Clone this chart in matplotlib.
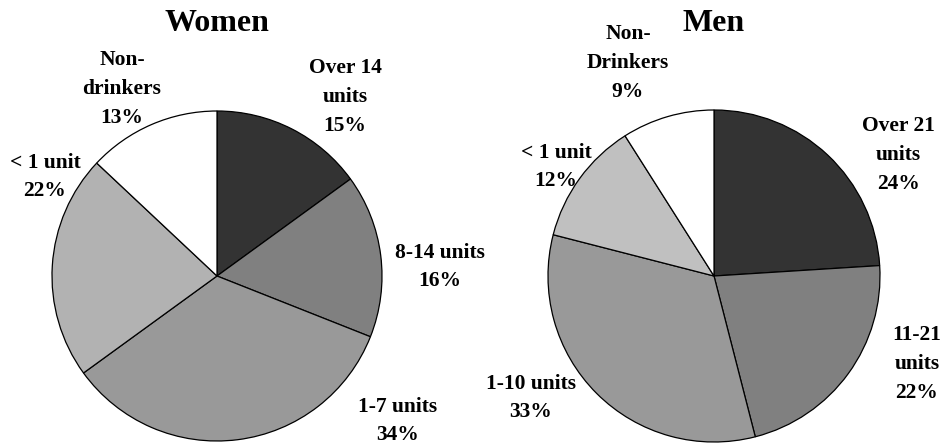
import matplotlib
matplotlib.use("Agg")
import matplotlib.pyplot as plt

# Weekly alcohol consumption by sex (percent of adults)
women_categories = ["Over 14\nunits", "8-14 units", "1-7 units", "< 1 unit", "Non-\ndrinkers"]
women_values = [15, 16, 34, 22, 13]
men_categories = ["Over 21\nunits", "11-21\nunits", "1-10 units", "< 1 unit", "Non-\nDrinkers"]
men_values = [24, 22, 33, 12, 9]

women_colors = ["#333333", "#808080", "#999999", "#b2b2b2", "#ffffff"]
men_colors = ["#333333", "#808080", "#999999", "#c0c0c0", "#ffffff"]

W, H = 944, 444
fig = plt.figure(figsize=(W / 100, H / 100), dpi=100)
ax = fig.add_axes([0, 0, 1, 1])
ax.set_xlim(0, W)
ax.set_ylim(0, H)
ax.set_aspect("equal")
ax.axis("off")

plt.rcParams["font.family"] = ["Liberation Serif", "DejaVu Serif"]

def py(y):
    # pixel row (from top) to axes y
    return H - y

# layout: pie centers / radius and label anchor points (pixels from top-left)
panels = [
    dict(title="Women", cats=women_categories, vals=women_values, colors=women_colors,
         center=(217, 276), radius=165, title_pos=(217, 24),
         label_pos=[(345, 97), (440, 267), (398, 421), (45, 177), (122, 89)]),
    dict(title="Men", cats=men_categories, vals=men_values, colors=men_colors,
         center=(714, 276), radius=166, title_pos=(714, 24),
         label_pos=[(898, 155), (917, 364), (531, 398), (556, 167), (628, 63)]),
]

for p in panels:
    cx, cy = p["center"]
    ax.pie(p["vals"], colors=p["colors"], startangle=90, counterclock=False,
           center=(cx, py(cy)), radius=p["radius"],
           wedgeprops=dict(edgecolor="black", linewidth=0.9))
    ax.text(p["title_pos"][0], py(p["title_pos"][1]), p["title"],
            ha="center", va="center", fontsize=23, fontweight="bold")
    for cat, val, (lx, ly) in zip(p["cats"], p["vals"], p["label_pos"]):
        ax.text(lx, py(ly), f"{cat}\n{val}%", ha="center", va="center",
                fontsize=15.5, fontweight="bold", linespacing=1.57)

ax.set_xlim(0, W)
ax.set_ylim(0, H)
fig.savefig("out.png", dpi=100)
